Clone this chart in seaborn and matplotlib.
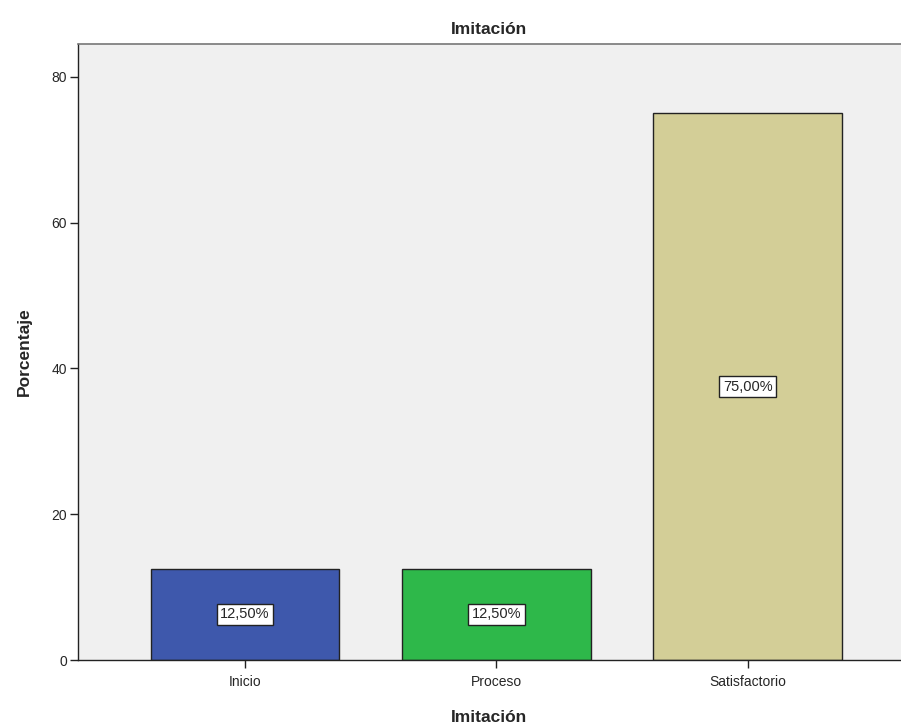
import numpy as np
import pandas as pd
import matplotlib
matplotlib.use("Agg")
import matplotlib.pyplot as plt
import seaborn as sns

categories = ["Inicio", "Proceso", "Satisfactorio"]
percentages = [12.5, 12.5, 75.0]
bar_colors = ["#3E58AC", "#2EB84A", "#D3CE97"]
value_labels = ["12,50%", "12,50%", "75,00%"]

df = pd.DataFrame({"Imitación": categories, "Porcentaje": percentages})

sns.set_style("white")
plt.rcParams["font.family"] = ["Arial", "Liberation Sans", "DejaVu Sans"]

fig = plt.figure(figsize=(9.01, 7.26), dpi=100)
ax = fig.add_axes([78 / 901, 66 / 726, 1 - 78 / 901, 616 / 726])
ax.set_facecolor("#F0F0F0")

sns.barplot(data=df, x="Imitación", y="Porcentaje", hue="Imitación",
            palette=bar_colors, saturation=1, width=0.75, edgecolor="#222222",
            linewidth=1.0, legend=False, ax=ax)

# etiquetas de valor en el centro de cada barra
for i, (v, lab) in enumerate(zip(percentages, value_labels)):
    ax.text(i, v / 2, lab, ha="center", va="center", fontsize=10.5,
            bbox=dict(boxstyle="square,pad=0.25", facecolor="white",
                      edgecolor="#222222", linewidth=1.0))

ax.set_xlim(-0.664, 2.61)
ax.set_ylim(0, 84.5)
ax.set_yticks([0, 20, 40, 60, 80])
ax.tick_params(axis="both", direction="out", length=6, width=1,
               color="#222222", labelsize=10, pad=2, left=True, bottom=True)
ax.tick_params(axis="x", pad=5)
for side in ["left", "bottom"]:
    ax.spines[side].set_color("#222222")
    ax.spines[side].set_linewidth(1.0)
ax.spines["top"].set_color("#777777")
ax.spines["top"].set_linewidth(1.2)
ax.spines["right"].set_visible(False)

ax.set_title("Imitación", fontsize=12.5, fontweight="bold", pad=7)
ax.set_xlabel("Imitación", fontsize=12.5, fontweight="bold", labelpad=15)
ax.set_ylabel("Porcentaje", fontsize=12.5, fontweight="bold", labelpad=14)

fig.savefig("out.png", dpi=100)
